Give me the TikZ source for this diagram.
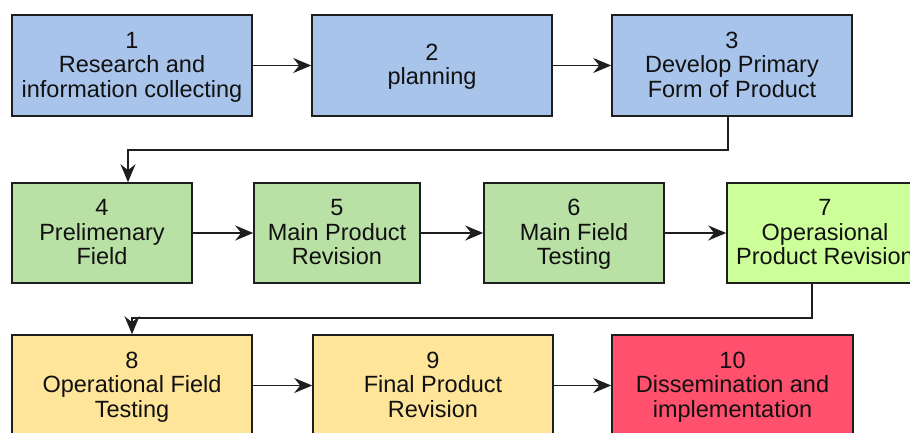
\documentclass[tikz,border=0pt]{standalone}
\usepackage{fontspec}
\setmainfont{Liberation Sans}
\usetikzlibrary{arrows.meta}
\definecolor{cblue}{HTML}{A9C4EB}
\definecolor{cgreen}{HTML}{B9E0A5}
\definecolor{clime}{HTML}{CCFF99}
\definecolor{cyellow}{HTML}{FFE599}
\definecolor{cred}{HTML}{FF506E}
\definecolor{cborder}{HTML}{1E1E1E}
\definecolor{ctext}{HTML}{111111}
\begin{document}
\begin{tikzpicture}[x=1pt,y=-1pt,
  box/.style={draw=cborder,line width=1.6pt,inner sep=0pt,align=center,
    font=\fontsize{23.5}{24.5}\selectfont,text=ctext,minimum height=101pt,
    execute at begin node=\strut, execute at end node=\strut},
  lbl/.style={inner sep=0pt,align=center,font=\fontsize{23.5}{24.5}\selectfont,text=ctext,
    execute at begin node=\strut, execute at end node=\strut},
  link/.style={line width=1.7pt,draw=cborder,-{Stealth[length=18pt,width=15pt,inset=6pt]}}]
\useasboundingbox (0,0) rectangle (910,432);
\clip (0,0) rectangle (910,432);
\fill[white] (0,0) rectangle (910,432);
\node[box,fill=cblue,minimum width=240pt] (n1) at (132,65.5) {};
\node[box,fill=cblue,minimum width=240pt] (n2) at (432,65.5) {};
\node[box,fill=cblue,minimum width=240pt] (n3) at (732,65.5) {};
\node[box,fill=cgreen,minimum width=180pt,minimum height=100pt] (n4) at (102,233) {};
\node[box,fill=cgreen,minimum width=166pt,minimum height=100pt] (n5) at (337,233) {};
\node[box,fill=cgreen,minimum width=180pt,minimum height=100pt] (n6) at (574,233) {};
\node[box,fill=clime,minimum width=196pt,minimum height=100pt] (n7) at (825,233) {};
\node[box,fill=cyellow,minimum width=240pt] (n8) at (132,385.5) {};
\node[box,fill=cyellow,minimum width=240pt] (n9) at (433,385.5) {};
\node[box,fill=cred,minimum width=241pt] (n10) at (732.5,385.5) {};
\node[lbl,yshift=-2.6pt] (t1) at (n1) {1\\Research and\\information collecting};
\node[lbl,yshift=-2.6pt] (t2) at (n2) {2\\planning};
\node[lbl,yshift=-2.6pt] (t3) at (n3) {3\\Develop Primary\\Form of Product};
\node[lbl,yshift=-2.6pt] (t4) at (n4) {4\\Prelimenary\\Field};
\node[lbl,yshift=-2.6pt] (t5) at (n5) {5\\Main Product\\Revision};
\node[lbl,yshift=-2.6pt] (t6) at (n6) {6\\Main Field\\Testing};
\node[lbl,yshift=-2.6pt] (t7) at (n7) {7\\Operasional\\Product Revision};
\node[lbl,yshift=-2.6pt] (t8) at (n8) {8\\Operational Field\\Testing};
\node[lbl,yshift=-2.6pt] (t9) at (n9) {9\\Final Product\\Revision};
\node[lbl,yshift=-2.6pt] (t10) at (n10) {10\\Dissemination and\\implementation};
\draw[link] (n1) -- (n2);
\draw[link] (n2) -- (n3);
\draw[link] ([xshift=-4pt]n3.south) -- ++(0,33) -| ([xshift=26pt]n4.north);
\draw[link] (n4) -- (n5);
\draw[link] (n5) -- (n6);
\draw[link] (n6) -- (n7);
\draw[link] ([xshift=-13pt]n7.south) -- ++(0,34) -| (n8.north);
\draw[link] (n8) -- (n9);
\draw[link] (n9) -- (n10);
\end{tikzpicture}
\end{document}
